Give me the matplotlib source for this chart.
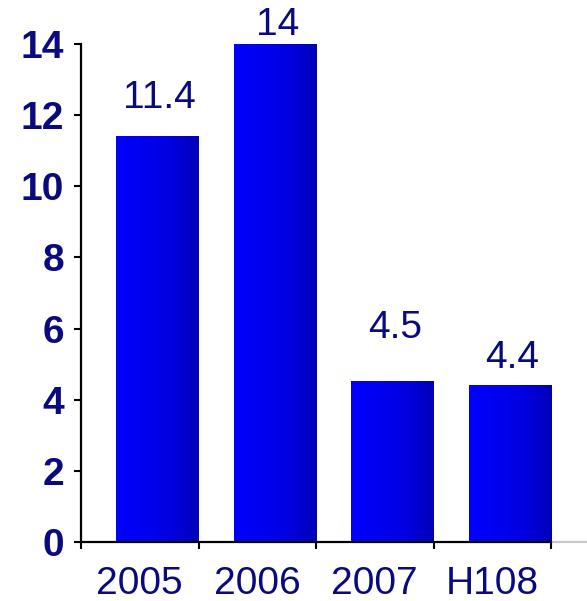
import numpy as np
import matplotlib
matplotlib.use("Agg")
import matplotlib.pyplot as plt
from matplotlib.colors import LinearSegmentedColormap

categories = ["2005", "2006", "2007", "H108"]
values = [11.4, 14, 4.5, 4.4]
value_labels = ["11.4", "14", "4.5", "4.4"]
yticks = [0, 2, 4, 6, 8, 10, 12, 14]

label_offsets_pt = [15, 0.5, 26, 6.5]

plt.rcParams['font.family'] = ['Liberation Sans', 'DejaVu Sans']
navy = "#0a0a80"
FS = 28

W, H = 587, 601
fig = plt.figure(figsize=(W / 100, H / 100), dpi=100)
ax = fig.add_axes([81 / W, (H - 542) / H, (551 - 81) / W, (542 - 44) / H])

cmap = LinearSegmentedColormap.from_list("g", ["#0000ff", "#0000f0", "#0000e0", "#0000b8"])
grad = np.linspace(0, 1, 256).reshape(1, -1)

bar_left = 0.30
bar_w = 0.70
for i, v in enumerate(values):
    x0 = i + bar_left
    ax.imshow(grad, cmap=cmap, extent=[x0, x0 + bar_w, 0, v], aspect="auto",
              interpolation="bilinear", zorder=2)
    ax.annotate(value_labels[i], xy=(x0 + bar_w / 2 + 0.02, v), xytext=(0, label_offsets_pt[i]),
                textcoords="offset points", ha="center", va="bottom",
                fontsize=FS, color=navy, annotation_clip=False)

ax.set_xlim(0, 4)
ax.set_ylim(0, 14)
ax.set_xticks(range(5))
ax.set_xticklabels([])
ax.set_xticks([i + 0.5 for i in range(4)], minor=True)
ax.set_xticklabels(categories, minor=True, fontsize=FS, color=navy)
ax.tick_params(axis="x", which="minor", length=0, pad=17)
ax.tick_params(axis="x", which="major", length=5, width=1.5, direction="out")
ax.set_yticks(yticks)
ax.set_yticklabels([str(t) for t in yticks], fontsize=FS, fontweight="bold", color=navy)
ax.tick_params(axis="y", length=5, width=1.5, direction="out", pad=7)

for s in ["top", "right"]:
    ax.spines[s].set_visible(False)
for s in ["left", "bottom"]:
    ax.spines[s].set_linewidth(1.6)
    ax.spines[s].set_zorder(3)

# grey extension of the baseline
ax.plot([4.0, 4.3], [0, 0], color="#c8c8c8", lw=1.6, clip_on=False, zorder=1)

fig.savefig("out.png", dpi=100)
